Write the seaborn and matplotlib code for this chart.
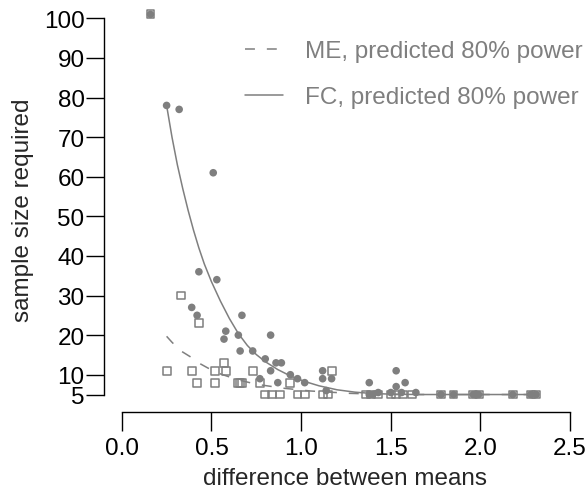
import matplotlib
matplotlib.use("Agg")
import matplotlib.pyplot as plt
import seaborn as sns
import pandas as pd

# Observed sample sizes, fold-change (FC) method
fc_diff = [0.16, 0.25, 0.32, 0.51, 0.43, 0.53, 0.39, 0.42, 0.67,
           0.58, 0.57, 0.65, 0.83, 0.66, 0.73, 0.80, 0.86, 0.89,
           0.83, 0.77, 0.87, 0.94, 0.98, 1.02, 1.12, 1.12, 1.17, 1.14,
           1.38, 1.53, 1.53, 1.58, 1.43, 1.38, 1.40, 1.50, 1.56, 1.64,
           1.78, 1.85, 1.96, 1.99, 2.18, 2.28, 2.31]
fc_n = [101, 78, 77, 61, 36, 34, 27, 25, 25,
        21, 19, 20, 20, 16, 16, 14, 13, 13,
        11, 9, 8, 10, 9, 8, 11, 9, 9, 6,
        8, 11, 7, 8, 5.5, 5, 5, 5.5, 5.5, 5.5,
        5, 5, 5, 5, 5, 5, 5]

# Observed sample sizes, mean-expression (ME) method
me_diff = [0.16, 0.33, 0.43, 0.25, 0.39, 0.52, 0.58, 0.57, 0.73,
           0.42, 0.52, 0.65, 0.66, 0.67, 0.77, 0.94, 1.17,
           0.80, 0.84, 0.88, 0.98, 1.02, 1.12, 1.15,
           1.36, 1.39, 1.43, 1.50, 1.53, 1.57, 1.62,
           1.78, 1.85, 1.96, 1.99, 2.18, 2.28, 2.31]
me_n = [101, 30, 23, 11, 11, 11, 11, 13, 11,
        8, 8, 8, 8, 8, 8, 8, 11,
        5, 5, 5, 5, 5, 5, 5,
        5, 5, 5, 5, 5, 5, 5,
        5, 5, 5, 5, 5, 5, 5]

# Predicted sample size for 80% power
fc_curve_diff = [0.25, 0.28, 0.31, 0.34, 0.37, 0.40, 0.43, 0.46, 0.50, 0.55,
                 0.60, 0.65, 0.70, 0.75, 0.80, 0.87, 0.94, 1.02, 1.10, 1.20,
                 1.30, 1.40, 1.50, 1.65, 1.80, 2.00, 2.31]
fc_curve_n = [78, 70, 63, 57, 51.5, 46.5, 42, 38, 33.5, 28.6,
              24.2, 20.4, 17.4, 15.1, 13.3, 11.3, 9.7, 8.3, 7.2, 6.2,
              5.6, 5.25, 5.1, 5.0, 5.0, 5.0, 5.0]
me_curve_diff = [0.25, 0.28, 0.33, 0.38, 0.44, 0.48, 0.55, 0.65, 0.75, 0.90,
                 1.05, 1.27, 1.50, 2.31]
me_curve_n = [19.7, 18.2, 16.0, 14.6, 12.7, 11.7, 10.2, 8.7, 7.6, 6.6,
              5.9, 5.3, 5.0, 5.0]

x_ticks = [0.0, 0.5, 1.0, 1.5, 2.0, 2.5]
x_ticklabels = ["0.0", "0.5", "1.0", "1.5", "2.0", "2.5"]
y_ticks = [5, 10, 20, 30, 40, 50, 60, 70, 80, 90, 100]
y_ticklabels = [str(v) for v in y_ticks]

sns.set_style("ticks")
plt.rcParams["font.family"] = ["Liberation Sans", "DejaVu Sans"]

GREY = "#7f7f7f"

fc_df = pd.DataFrame({"diff": fc_diff, "n": fc_n})
me_df = pd.DataFrame({"diff": me_diff, "n": me_n})
fc_curve = pd.DataFrame({"diff": fc_curve_diff, "n": fc_curve_n})
me_curve = pd.DataFrame({"diff": me_curve_diff, "n": me_curve_n})

fig = plt.figure(figsize=(5.88, 4.89), dpi=100)
ax = fig.add_axes([0.1769, 0.1560, 0.9949 - 0.1769, 0.9836 - 0.1560])

sns.lineplot(data=me_curve, x="diff", y="n", ax=ax, color=GREY, lw=1.1,
             dashes=False, label="ME, predicted 80% power", zorder=2)
ax.lines[-1].set_dashes((6.5, 7.8))
sns.lineplot(data=fc_curve, x="diff", y="n", ax=ax, color=GREY, lw=1.1,
             label="FC, predicted 80% power", zorder=2)

sns.scatterplot(data=fc_df, x="diff", y="n", ax=ax, marker="o", s=30,
                color=GREY, edgecolor="none", linewidth=0, zorder=3,
                legend=False)
sns.scatterplot(data=me_df, x="diff", y="n", ax=ax, marker="s", s=32,
                facecolor="none", edgecolor=GREY, linewidth=1.1, zorder=4,
                legend=False)

ax.set_xlim(-0.099, 2.583)
ax.set_ylim(0.66, 102.85)
ax.set_xticks(x_ticks)
ax.set_xticklabels(x_ticklabels)
ax.set_yticks(y_ticks)
ax.set_yticklabels(y_ticklabels)

ax.spines["top"].set_visible(False)
ax.spines["right"].set_visible(False)
ax.spines["left"].set_bounds(5, 100)
ax.spines["bottom"].set_bounds(0, 2.5)
for s in ("left", "bottom"):
    ax.spines[s].set_linewidth(1.0)
    ax.spines[s].set_color("black")

ax.tick_params(axis="both", direction="out", width=1.0, color="black",
               labelsize=17.5, labelcolor="black")
ax.tick_params(axis="y", length=13, pad=1)
ax.tick_params(axis="x", length=14, pad=4)

ax.set_xlabel("difference between means", fontsize=17.5, labelpad=6)
ax.set_ylabel("sample size required", fontsize=17.5, labelpad=7)

leg = ax.legend(loc="upper left", bbox_to_anchor=(245 / 588, 1 - 41 / 489),
                bbox_transform=fig.transFigure, frameon=False,
                fontsize=17.5, handlelength=1.55, handletextpad=0.9,
                labelspacing=1.0, borderpad=0, borderaxespad=0)
for t in leg.get_texts():
    t.set_color(GREY)

fig.savefig("out.png", dpi=100)
